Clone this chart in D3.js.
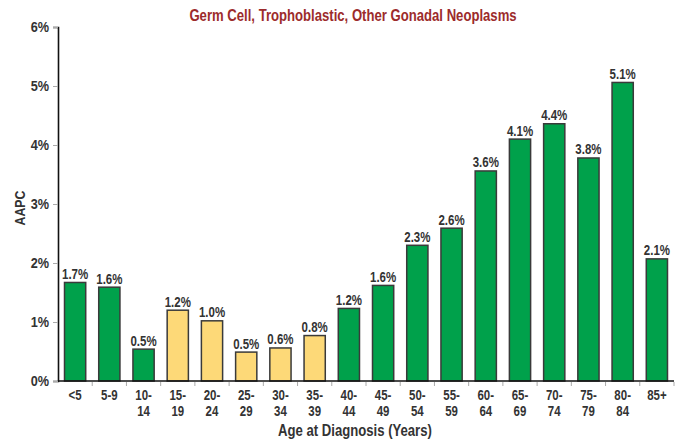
<!DOCTYPE html>
<html>
<head>
<meta charset="utf-8">
<script src="https://cdn.jsdelivr.net/npm/d3@7"></script>
<style>
  body { margin: 0; background: #fff; }
  text { font-family: "Liberation Sans", Arial, sans-serif; font-weight: bold; }
</style>
</head>
<body>
<div id="chart"></div>
<script>
// Age groups and their AAPC values
var ageGroups = ["<5", "5-9", "10-14", "15-19", "20-24", "25-29", "30-34", "35-39", "40-44",
    "45-49", "50-54", "55-59", "60-64", "65-69", "70-74", "75-79", "80-84", "85+"];
var aapc = [1.67, 1.59, 0.54, 1.20, 1.02, 0.49, 0.56, 0.77, 1.23,
    1.62, 2.30, 2.59, 3.56, 4.10, 4.36, 3.78, 5.06, 2.07];
// AYA age groups drawn in yellow
var ayaGroups = ["15-19", "20-24", "25-29", "30-34", "35-39"];
var yTicks = [0, 1, 2, 3, 4, 5, 6];

var width = 690, height = 445;
var margin = { top: 27, right: 16, bottom: 64, left: 58 };
var narrow = 0.82; // squeeze text sideways, the original uses a narrow font

var svg = d3.select("#chart").append("svg")
    .attr("width", width).attr("height", height);

var x = d3.scaleBand().domain(ageGroups)
    .range([margin.left, width - margin.right])
    .paddingInner(0.38).paddingOuter(0.19);
var y = d3.scaleLinear().domain([0, 6]).range([height - margin.bottom, margin.top]);

// narrow text placed at (px, py)
function ntext(parent, px, py, str, size) {
    return parent.append("text")
        .attr("transform", "translate(" + px + "," + py + ") scale(" + narrow + ",1)")
        .attr("text-anchor", "middle").attr("fill", "#333")
        .style("font-size", size + "px").text(str);
}

// title
ntext(svg, 353, 21, "Germ Cell, Trophoblastic, Other Gonadal Neoplasms", 16)
    .attr("fill", "#9c2b2b");

// y axis
var yAxis = svg.append("g").attr("transform", "translate(" + margin.left + ",0)")
    .call(d3.axisLeft(y).tickValues(yTicks).tickFormat(function(d) { return d + "%"; })
        .tickSize(5).tickPadding(6));
yAxis.select(".domain").attr("stroke", "#111").attr("stroke-width", 1.6);
yAxis.selectAll(".tick line").attr("stroke", "#aaa");
yAxis.selectAll(".tick text").attr("fill", "#333").style("font-size", "15.5px")
    .attr("transform", "scale(" + narrow + ",1)");

ntext(svg, 25, 208, "AAPC", 15)
    .attr("transform", "translate(25,208) rotate(-90) scale(" + narrow + ",1)");

// bars
svg.append("g").selectAll("rect").data(ageGroups).enter().append("rect")
    .attr("x", function(d) { return x(d); })
    .attr("y", function(d, i) { return y(aapc[i]); })
    .attr("width", x.bandwidth())
    .attr("height", function(d, i) { return y(0) - y(aapc[i]); })
    .attr("fill", function(d) { return ayaGroups.indexOf(d) >= 0 ? "#fdd978" : "#00a14b"; })
    .attr("stroke", "#3a3a3a").attr("stroke-width", 1.5);

// value labels
var vals = svg.append("g");
ageGroups.forEach(function(d, i) {
    ntext(vals, x(d) + x.bandwidth() / 2, y(aapc[i]) - 3.5, aapc[i].toFixed(1) + "%", 14);
});

// x axis line and ticks at band boundaries
var x0 = x.range()[0], x1 = x.range()[1];
svg.append("line").attr("x1", x0).attr("x2", x1)
    .attr("y1", y(0)).attr("y2", y(0))
    .attr("stroke", "#111").attr("stroke-width", 1.6);
var bounds = ageGroups.map(function(d) { return x(d) - x.step() * x.paddingInner() / 2; });
bounds.push(x1);
svg.append("g").selectAll("line").data(bounds.slice(1)).enter().append("line")
    .attr("x1", function(d) { return d; }).attr("x2", function(d) { return d; })
    .attr("y1", y(0) + 1).attr("y2", y(0) + 5)
    .attr("stroke", "#aaa");

// category labels, split after the hyphen onto two lines
var labs = svg.append("g");
ageGroups.forEach(function(d) {
    var cx = x(d) + x.bandwidth() / 2;
    var parts = d.length > 3 ? [d.slice(0, d.indexOf("-") + 1), d.slice(d.indexOf("-") + 1)] : [d];
    parts.forEach(function(p, i) {
        ntext(labs, cx, 400 + i * 16, p, 14);
    });
});

ntext(svg, 355, 436, "Age at Diagnosis (Years)", 16);
</script>
</body>
</html>
